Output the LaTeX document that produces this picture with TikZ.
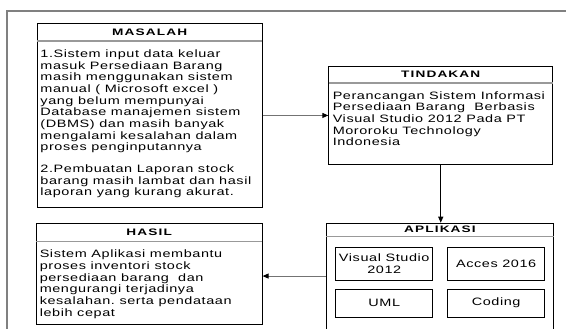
\documentclass[tikz,border=0pt]{standalone}
\usepackage{fontspec}
\setmainfont{Liberation Sans}
\newfontfamily\bodyfont{Liberation Sans}[FakeStretch=1.35, LetterSpace=5.5]
\newfontfamily\headfont{Liberation Sans}[FakeStretch=1.45, LetterSpace=12]
\usetikzlibrary{positioning, matrix, arrows.meta}

\begin{document}
\begin{tikzpicture}[x=1pt, y=-1pt, ampersand replacement=\&,
		box/.style={draw=black, line width=0.9pt, inner sep=0pt, anchor=north west},
		head/.style={inner sep=0pt, font=\headfont\bfseries\fontsize{9.4}{11}\selectfont},
		body/.style={inner sep=0pt, align=left, font=\bodyfont\frenchspacing\fontsize{10.7}{11.7}\selectfont},
		cell/.style={draw=black, line width=0.9pt, inner sep=0pt, align=center, minimum width=96.7pt, font=\bodyfont\fontsize{10.7}{12}\selectfont},
		sep/.style={draw=black!40, line width=1.4pt},
		link/.style={draw=black!55, line width=1pt, -{Triangle[black, length=6pt, width=5pt]}},
		frame/.style={draw=black!50, line width=1.4pt}]
					\useasboundingbox (0,0) rectangle (566,329);
					\draw[frame] (7,329) -- (7,11) -- (566,11);

					\node[box, minimum width=225pt, minimum height=184pt] (masalah) at (36.7,22.7) {};
					\node[head, minimum width=225pt, minimum height=18pt, below=0pt of masalah.north] (masalahhead) {MASALAH};
					\draw[sep] (masalahhead.south west) -- (masalahhead.south east);
					\node[body, below right=8.3pt and 3.3pt of masalahhead.south west] (masalahtext) {%
						1.Sistem input data keluar\\
						masuk Persediaan Barang\\
						masih menggunakan sistem\\
						manual ( Microsoft excel )\\
						yang belum mempunyai\\
						Database manajemen sistem\\
						(DBMS) dan masih banyak\\
						mengalami kesalahan dalam\\
						proses penginputannya\\[9.7pt]
						2.Pembuatan Laporan stock\\
						barang masih lambat dan hasil\\
						laporan yang kurang akurat.};

					\node[box, minimum width=224pt, minimum height=98pt] (tindakan) at (328.3,66) {};
					\node[head, minimum width=224pt, minimum height=16.7pt, below=0pt of tindakan.north] (tindakanhead) {TINDAKAN};
					\draw[sep] (tindakanhead.south west) -- (tindakanhead.south east);
					\node[body, below right=8pt and 4pt of tindakanhead.south west] (tindakantext) {%
						Perancangan Sistem Informasi\\
						Persediaan Barang \ Berbasis\\
						Visual Studio 2012 Pada PT\\
						Mororoku Technology\\
						Indonesia};

					\node[box, minimum width=226pt, minimum height=100.7pt] (hasil) at (35.7,223.3) {};
					\node[head, minimum width=226pt, minimum height=17.7pt, below=0pt of hasil.north] (hasilhead) {HASIL};
					\draw[sep] (hasilhead.south west) -- (hasilhead.south east);
					\node[body, below right=8.3pt and 3.6pt of hasilhead.south west] (hasiltext) {%
						Sistem Aplikasi membantu\\
						proses inventori stock\\
						persediaan barang \ dan\\
						mengurangi terjadinya\\
						kesalahan. serta pendataan\\
						lebih cepat};

					\node[box, minimum width=227pt, minimum height=105.8pt] (aplikasi) at (326,222.7) {};
					\node[head, minimum width=227pt, minimum height=13.3pt, below=0pt of aplikasi.north] (aplikasihead) {APLIKASI};
					\draw[sep] (aplikasihead.south west) -- (aplikasihead.south east);
					\matrix[row sep=8pt, column sep=14.3pt, inner sep=0pt, below right=10.7pt and 9pt of aplikasihead.south west] (tools)
					{%
						\node[cell, minimum height=32.6pt] (vs) {Visual Studio\\2012}; \&
						\node[cell, minimum height=32.6pt] (acces) {Acces 2016}; \\
						\node[cell, minimum height=27.7pt] (uml) {UML}; \&
						\node[cell, minimum height=27.7pt] (coding) {Coding}; \\
					};

					\draw[link] (masalah.east |- tindakan.west) -- (tindakan.west);
					\draw[link, draw=black] (tindakan.south) -- (tindakan.south |- aplikasi.north);
					\draw[link] (aplikasi.west) -- (aplikasi.west -| hasil.east);
				\end{tikzpicture}
\end{document}
